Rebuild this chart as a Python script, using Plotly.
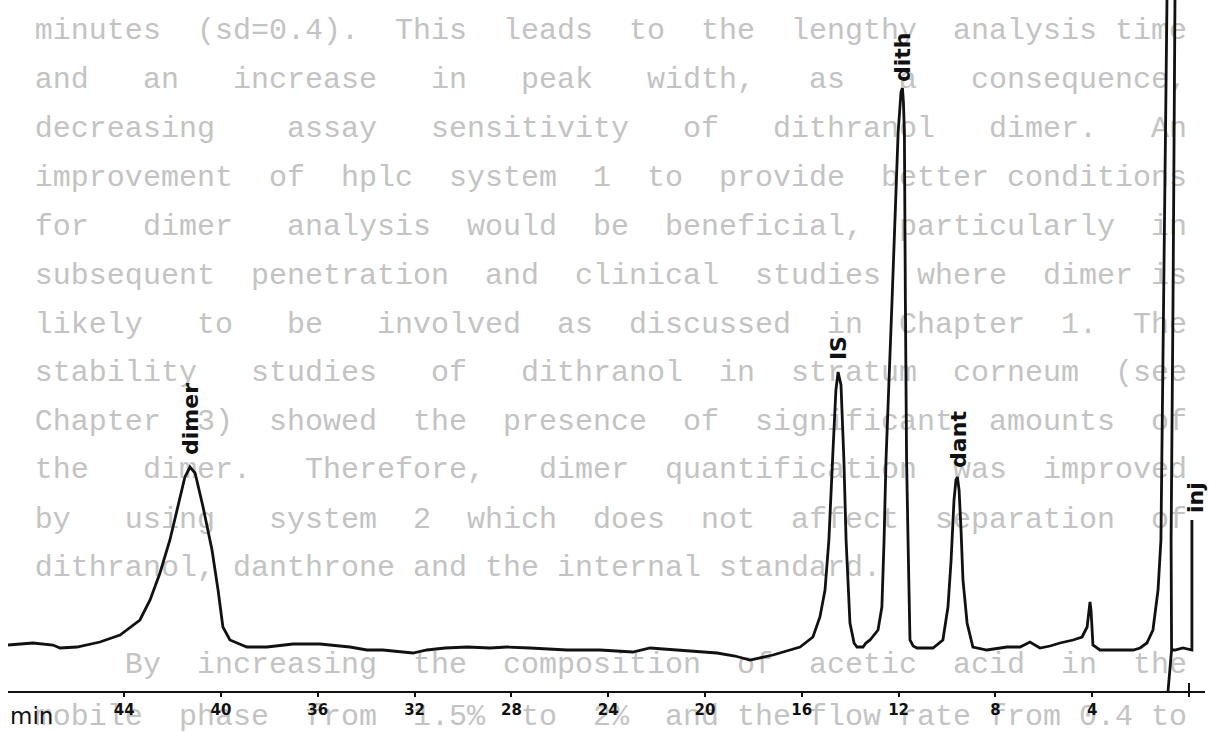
import plotly.graph_objects as go

# ---------------- data ----------------
# retention time (min) and detector response (arbitrary units)
time_min = [48.80, 47.77, 46.94, 46.65, 45.95, 45.00, 44.17, 43.35, 42.93, 42.52,
            42.11, 41.78, 41.49, 41.28, 41.07, 40.74, 40.37, 40.12, 39.92, 39.63,
            38.93, 38.10, 37.02, 35.91, 34.67, 33.97, 33.31, 32.07, 31.49, 30.74,
            29.83, 28.88, 28.18, 27.23, 25.70, 24.34, 22.98, 22.27, 21.03, 19.50,
            18.76, 18.14, 17.19, 16.07, 15.54, 15.25, 15.04, 14.88, 14.71, 14.59,
            14.50, 14.38, 14.26, 14.17, 14.01, 13.84, 13.72, 13.47, 13.35, 13.18,
            12.85, 12.69, 12.60, 12.52, 12.27, 12.02, 11.90, 11.84, 11.80, 11.76,
            11.72, 11.67, 11.61, 11.57, 11.53, 11.40, 11.24, 10.58, 10.17, 9.96,
            9.83, 9.71, 9.63, 9.57, 9.50, 9.42, 9.34, 9.17, 8.93, 8.35,
            7.52, 6.98, 6.57, 6.16, 5.74, 5.33, 4.79, 4.42, 4.21, 4.09,
            4.05, 4.01, 3.97, 3.68, 3.39, 2.31, 2.02, 1.74, 1.49, 1.28,
            1.16, 1.07, 0.99, 0.91, 0.83, 0.58, 0.66, 0.74, 0.72, 0.87,
            0.72, 0.58, 0.25, -0.12, -0.12]
response = [47, 49, 47, 44, 45, 50, 57, 72, 92, 119,
            152, 185, 215, 225, 219, 185, 142, 102, 65, 52,
            45, 45, 48, 48, 45, 42, 42, 39, 42, 44,
            45, 44, 45, 44, 42, 42, 40, 44, 42, 39,
            36, 32, 37, 45, 55, 75, 102, 152, 242, 302,
            320, 307, 232, 152, 69, 49, 45, 45, 49, 52,
            62, 85, 152, 232, 392, 559, 600, 604, 590, 559,
            392, 232, 152, 92, 52, 46, 44, 44, 52, 85,
            132, 192, 212, 215, 202, 162, 112, 69, 45, 42,
            45, 45, 50, 44, 46, 49, 52, 55, 65, 90,
            82, 65, 47, 42, 42, 42, 44, 49, 62, 102,
            152, 342, 542, 692, 752, 692, 392, 152, 42, 0,
            42, 42, 44, 42, 172]

tick_values = [44, 40, 36, 32, 28, 24, 20, 16, 12, 8, 4, 0]
tick_labels = ["44", "40", "36", "32", "28", "24", "20", "16", "12", "8", "4", ""]

peak_names = ["dimer", "IS", "dith", "dant", "inj"]
peak_label_time = [41.28, 14.50, 11.86, 9.55, -0.25]
peak_label_level = [273, 344, 635, 253, 194]

# faint typewritten text showing through from the reverse of the page
bleed_lines = [
    "minutes (sd=0.4). This leads to the lengthy analysis time",
    "and an increase in peak width, as a consequence,",
    "decreasing assay sensitivity of dithranol dimer. An",
    "improvement of hplc system 1 to provide better conditions",
    "for dimer analysis would be beneficial, particularly in",
    "subsequent penetration and clinical studies where dimer is",
    "likely to be involved as discussed in Chapter 1. The",
    "stability studies of dithranol in stratum corneum (see",
    "Chapter 3) showed the presence of significant amounts of",
    "the dimer. Therefore, dimer quantification was improved",
    "by using system 2 which does not affect separation of",
    "dithranol, danthrone and the internal standard.",
    "By increasing the composition of acetic acid in the",
    "mobile phase from 1.5% to 2% and the flow rate from 0.4 to",
]
bleed_justify = [True] * 11 + [False, True, True]
bleed_indent = [0] * 12 + [5, 0]
bleed_row_px = [31, 80, 129, 178, 227, 276, 325, 373, 422, 470, 520, 568, 665, 717]

# ---------------- layout helpers ----------------
W, H = 1209, 732
ML, MR = 8, 4
AXIS_PX = 692                      # pixel row of the time axis
X_RANGE = [48.80, -0.661]
Y_RANGE = [-(H - AXIS_PX), AXIS_PX]
LINE_CHARS = 64
NBSP = "\u00a0"


def justify(text, n, indent):
    words = text.split()
    if not words:
        return ""
    avail = n - indent
    total = sum(len(w) for w in words)
    gaps = len(words) - 1
    if gaps == 0:
        return NBSP * indent + words[0]
    spaces = max(avail - total, gaps)
    base, extra = divmod(spaces, gaps)
    out = NBSP * indent
    for i, w in enumerate(words[:-1]):
        out += w + NBSP * (base + (1 if i < extra else 0))
    return out + words[-1]


bleed_text = []
for txt, jus, ind in zip(bleed_lines, bleed_justify, bleed_indent):
    if jus:
        bleed_text.append(justify(txt, LINE_CHARS, ind))
    else:
        bleed_text.append(NBSP * ind + txt.replace(" ", NBSP))

bleed_start_time = 47.69
bleed_levels = [AXIS_PX - r for r in bleed_row_px]

fig = go.Figure()

fig.add_trace(go.Scatter(
    x=[bleed_start_time] * len(bleed_text), y=bleed_levels, text=bleed_text,
    mode="text", textposition="middle right",
    textfont=dict(family="Liberation Mono, Courier New, monospace", size=30,
                  color="#c3c3c3"),
    hoverinfo="skip", showlegend=False, cliponaxis=False,
))

fig.add_trace(go.Scatter(
    x=time_min, y=response, mode="lines",
    line=dict(color="#111111", width=2.8),
    showlegend=False, hoverinfo="skip",
))

for name, t, lvl in zip(peak_names, peak_label_time, peak_label_level):
    fig.add_annotation(
        x=t, y=lvl, xref="x", yref="y", text=name, showarrow=False, textangle=-90,
        font=dict(family="DejaVu Sans, Arial, sans-serif", size=22, color="#111111", weight="bold"),
        xanchor="center", yanchor="middle",
    )

fig.add_annotation(
    x=0, y=(H - 716) / H, xref="paper", yref="paper", text="min", showarrow=False,
    xanchor="left", yanchor="middle",
    font=dict(family="DejaVu Sans, Arial, sans-serif", size=23, color="#111111"),
)

# upper half of the zero tick (crosses the axis)
fig.add_shape(type="line", xref="x", yref="y", x0=0, x1=0, y0=0, y1=9,
              line=dict(color="#111111", width=2))

fig.update_layout(
    width=W, height=H,
    margin=dict(l=ML, r=MR, t=0, b=0),
    paper_bgcolor="white", plot_bgcolor="white",
    xaxis=dict(
        range=X_RANGE, tickmode="array", tickvals=tick_values, ticktext=tick_labels,
        anchor="free", position=(H - AXIS_PX) / H,
        showline=True, linecolor="#111111", linewidth=2.2, mirror=False,
        ticks="outside", ticklen=4, tickwidth=2, tickcolor="#111111",
        showgrid=False, zeroline=False, layer="above traces",
        tickfont=dict(family="DejaVu Sans, Arial, sans-serif", size=15, color="#111111", weight="bold"),
    ),
    yaxis=dict(range=Y_RANGE, visible=False, showgrid=False, zeroline=False),
)

fig.write_html("out.html")
